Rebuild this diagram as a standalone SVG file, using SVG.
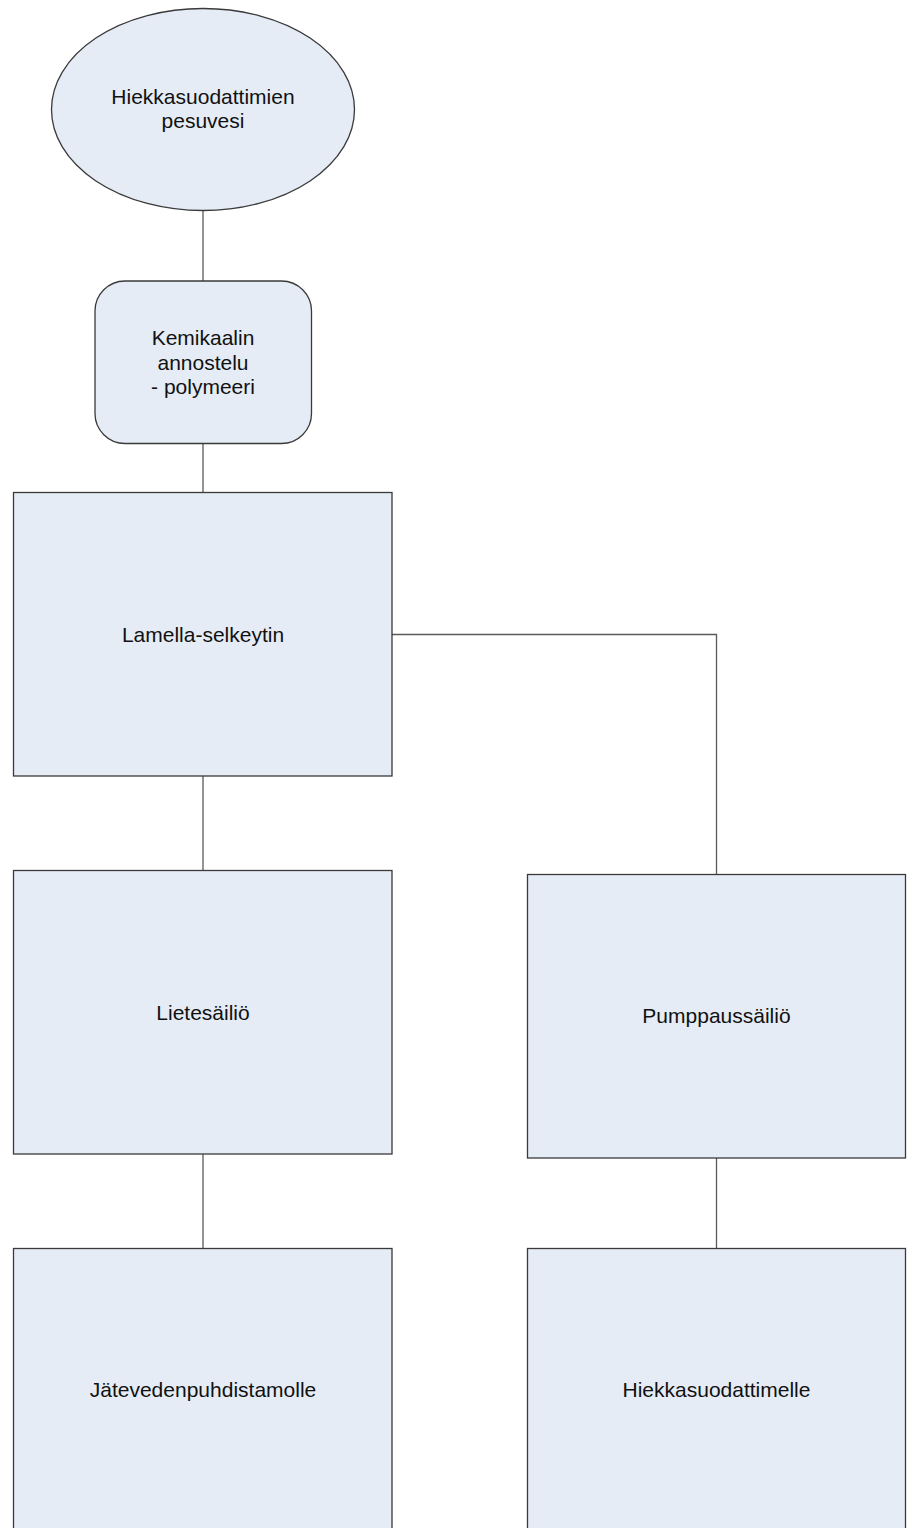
<svg xmlns="http://www.w3.org/2000/svg" width="907" height="1528" viewBox="0 0 907 1528">
<style>
.n{fill:#e5ecf6;stroke:#3a3a3a;stroke-width:1.3}
.c{fill:none;stroke:#5a5a5a;stroke-width:1.3}
.t{font-family:"Liberation Sans",Arial,sans-serif;font-size:21px;fill:#111;text-anchor:middle}
</style>
<rect width="907" height="1528" fill="#fff"/>
<g id="connectors">
<line class="c" x1="203" y1="210.5" x2="203" y2="281"/>
<line class="c" x1="203" y1="443.5" x2="203" y2="492.5"/>
<line class="c" x1="203" y1="776" x2="203" y2="870.5"/>
<polyline class="c" points="392,634.5 716.5,634.5 716.5,874.5"/>
<line class="c" x1="203" y1="1154" x2="203" y2="1248.5"/>
<line class="c" x1="716.5" y1="1158" x2="716.5" y2="1248.5"/>
</g>
<g id="n1">
<ellipse class="n" cx="203" cy="109.5" rx="151.5" ry="101"/>
<text class="t" x="203" y="104">Hiekkasuodattimien</text>
<text class="t" x="203" y="128">pesuvesi</text>
</g>
<g id="n2">
<rect class="n" x="95" y="281" width="216.5" height="162.5" rx="30" ry="30"/>
<text class="t" x="203" y="345">Kemikaalin</text>
<text class="t" x="203" y="369.5">annostelu</text>
<text class="t" x="203" y="394">- polymeeri</text>
</g>
<g id="n3">
<rect class="n" x="13.5" y="492.5" width="378.5" height="283.5"/>
<text class="t" x="203" y="641.5">Lamella-selkeytin</text>
</g>
<g id="n4">
<rect class="n" x="13.5" y="870.5" width="378.5" height="283.5"/>
<text class="t" x="203" y="1019.5">Lietesäiliö</text>
</g>
<g id="n5">
<rect class="n" x="527.5" y="874.5" width="378" height="283.5"/>
<text class="t" x="716.5" y="1022.5">Pumppaussäiliö</text>
</g>
<g id="n6">
<rect class="n" x="13.5" y="1248.5" width="378.5" height="283.5"/>
<text class="t" x="203" y="1396.5">Jätevedenpuhdistamolle</text>
</g>
<g id="n7">
<rect class="n" x="527.5" y="1248.5" width="378" height="283.5"/>
<text class="t" x="716.5" y="1396.5">Hiekkasuodattimelle</text>
</g>
</svg>
